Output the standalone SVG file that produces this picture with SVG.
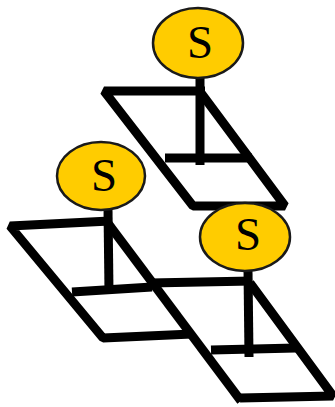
<svg xmlns="http://www.w3.org/2000/svg" width="335" height="407" viewBox="0 0 335 407">
<style>
.ln{fill:none;stroke:#000;stroke-width:9;stroke-linejoin:bevel;stroke-linecap:butt}
.nd ellipse{fill:#FFCC00;stroke:#1a1a1a;stroke-width:2.5}
.nd text{font-family:"Liberation Serif","Times New Roman",serif;font-size:47px;fill:#000;text-anchor:middle}
</style>
<rect width="335" height="407" fill="#fff"/>
<g id="connectors">
  <!-- top unit frame -->
  <path class="ln" d="M205 91 L104 91 L193 206 L285 206 L201 93"/>
  <line class="ln" x1="165" y1="158" x2="252" y2="158"/>
  <line class="ln" x1="200" y1="76" x2="200" y2="165"/>
  <!-- left unit frame -->
  <path class="ln" d="M110 221 L10 226 L103 338 L192 334"/>
  <line class="ln" x1="107" y1="222" x2="241" y2="401"/>
  <line class="ln" x1="72" y1="292" x2="152" y2="287"/>
  <line class="ln" x1="108" y1="209" x2="109" y2="292"/>
  <!-- right unit frame -->
  <path class="ln" d="M150 283 L252 281"/>
  <path class="ln" d="M240 398 L333 396 L250 283"/>
  <line class="ln" x1="211" y1="350" x2="296" y2="348"/>
  <line class="ln" x1="248" y1="270" x2="249" y2="357"/>
</g>
<g id="node-s1" class="nd">
  <ellipse cx="198" cy="43" rx="45" ry="35"/>
  <text x="200" y="58">S</text>
</g>
<g id="node-s2" class="nd">
  <ellipse cx="101" cy="176" rx="44" ry="34"/>
  <text x="104" y="191">S</text>
</g>
<g id="node-s3" class="nd">
  <ellipse cx="245" cy="237" rx="45" ry="34"/>
  <text x="248" y="250">S</text>
</g>
</svg>
